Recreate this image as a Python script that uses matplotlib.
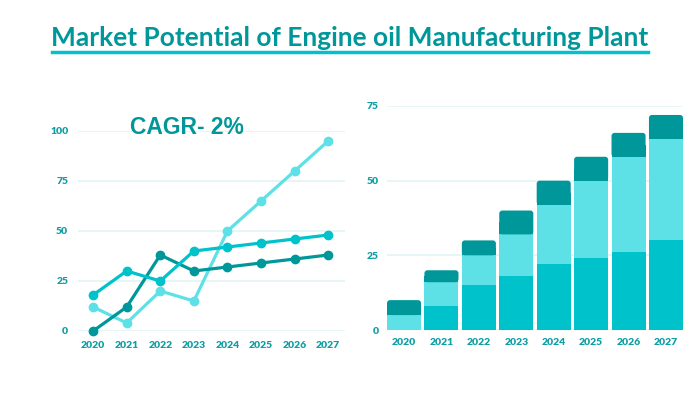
import matplotlib
matplotlib.use("Agg")
import matplotlib.pyplot as plt
from matplotlib.patches import FancyBboxPatch
import numpy as np

years = ["2020", "2021", "2022", "2023", "2024", "2025", "2026", "2027"]

# line chart series
line_mid = [18, 30, 25, 40, 42, 44, 46, 48]
line_light = [12, 4, 20, 15, 50, 65, 80, 95]
line_dark = [0, 12, 38, 30, 32, 34, 36, 38]

# stacked bar series
bar_bottom = [0, 8, 15, 18, 22, 24, 26, 30]
bar_middle = [5, 8, 10, 14, 20, 26, 32, 34]
bar_top = [5, 4, 5, 8, 8, 8, 8, 8]

left_yticks = [0, 25, 50, 75, 100]
right_yticks = [0, 25, 50, 75]

DARK = "#00979A"
MID = "#00C2CA"
LIGHT = "#5DE1E6"
TXT = "#0E9EA3"
GRID = "#E2F4F4"

plt.rcParams['font.family'] = ['Lato', 'DejaVu Sans']

fig = plt.figure(figsize=(7, 4), dpi=100)
W, H = 700, 400

# ---------- left line chart ----------
axL = fig.add_axes([78 / W, 1 - 331 / H, (345 - 78) / W, 200 / H])
x = np.arange(len(years))
for vals, col in [(line_light, LIGHT), (line_dark, DARK), (line_mid, MID)]:
    axL.plot(x, vals, color=col, lw=2.3, marker='o', ms=6, clip_on=False, zorder=3)
axL.set_xlim(-0.45, 7.5)
axL.set_ylim(0, 100)
axL.set_yticks(left_yticks)
axL.set_xticks(x)
axL.set_xticklabels(years)
axL.grid(axis='y', color=GRID, lw=1.2)
axL.set_axisbelow(True)
for s in axL.spines.values():
    s.set_visible(False)
axL.tick_params(length=0, labelsize=7.5, labelcolor=TXT, pad=7)
for lab in axL.get_xticklabels() + axL.get_yticklabels():
    lab.set_fontweight('heavy')
fig.text(187 / W, 1 - 127 / H, "CAGR- 2%", ha='center', va='center',
         fontsize=16.5, fontweight='bold', color=DARK,
         family=['Liberation Sans', 'DejaVu Sans'])

# ---------- right stacked bar chart ----------
axR = fig.add_axes([387 / W, 1 - 330 / H, (683 - 387) / W, 224 / H])
bw = 0.91
axR.bar(x, bar_bottom, width=bw, color=MID, zorder=3)
axR.bar(x, bar_middle, width=bw, bottom=bar_bottom, color=LIGHT, zorder=3)
base2 = np.array(bar_bottom) + np.array(bar_middle)
tops = axR.bar(x, bar_top, width=bw, bottom=base2, color=DARK, zorder=3)
axR.set_xlim(-0.455, 7.455)
axR.set_ylim(0, 75)
# round the top corners of each stacked bar
px_per_x = (683 - 387) / (7.455 + 0.455)
px_per_y = 224 / 75
r = 3.0 / px_per_x
for rect in tops:
    x0, y0 = rect.get_x(), rect.get_y()
    w, h = rect.get_width(), rect.get_height()
    rect.set_visible(False)
    p = FancyBboxPatch((x0, y0), w, h, boxstyle=f"round,pad=0,rounding_size={r}",
                       mutation_aspect=px_per_x / px_per_y, fc=DARK, ec='none', zorder=3)
    axR.add_patch(p)
    # square off bottom corners
    axR.bar(x0 + w / 2, h / 2, width=w, bottom=y0, color=DARK, zorder=3)
axR.set_yticks(right_yticks)
axR.set_xticks(x)
axR.set_xticklabels(years)
axR.grid(axis='y', color=GRID, lw=1.2)
axR.set_axisbelow(True)
for s in axR.spines.values():
    s.set_visible(False)
axR.tick_params(length=0, labelsize=7.5, labelcolor=TXT, pad=6)
for lab in axR.get_xticklabels() + axR.get_yticklabels():
    lab.set_fontweight('heavy')

# ---------- title ----------
title = fig.text(350 / W, 1 - 38 / H, "Market Potential of Engine oil Manufacturing Plant",
                 ha='center', va='center', fontsize=19, fontweight='bold', color=DARK)
fig.canvas.draw()
bb = title.get_window_extent()
title.set_fontsize(19 * 596 / bb.width)
fig.add_artist(plt.Line2D([52 / W, 648 / W], [1 - 52 / H, 1 - 52 / H],
                          transform=fig.transFigure, color=MID, lw=2.5))

fig.savefig("out.png", dpi=100, facecolor='white')
